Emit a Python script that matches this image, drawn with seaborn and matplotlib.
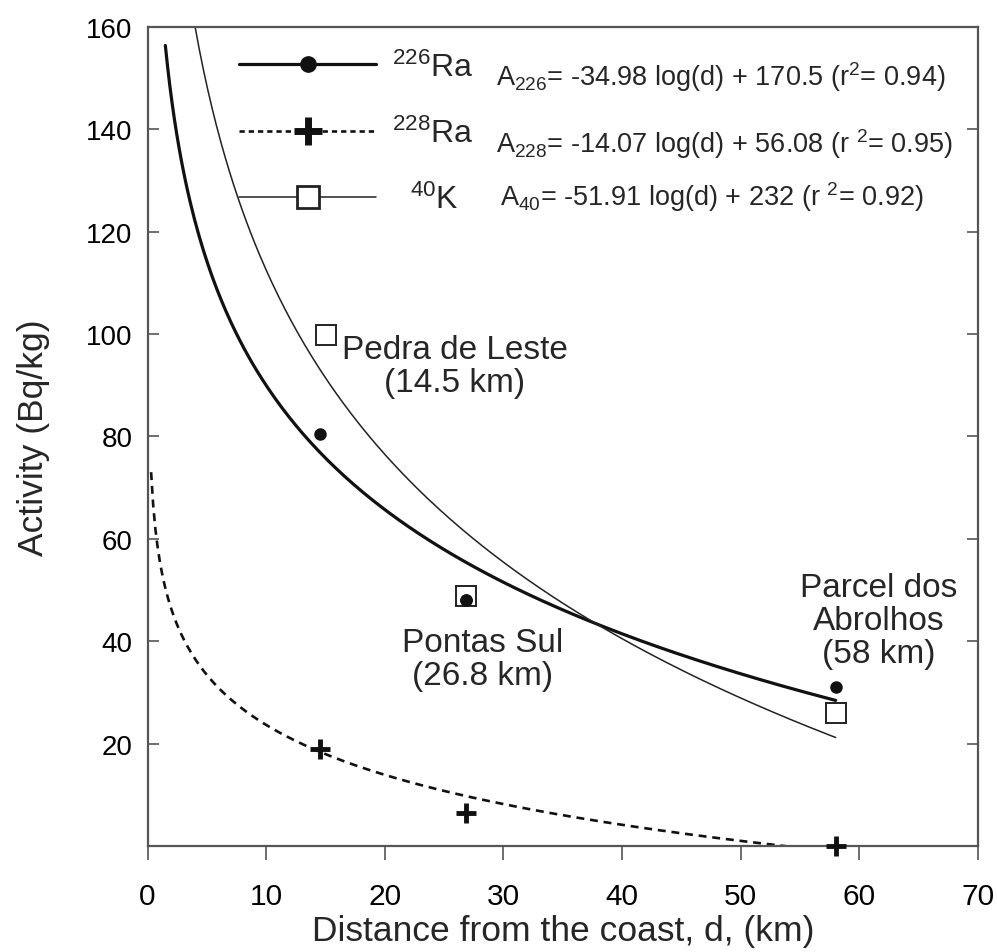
import numpy as np
import pandas as pd
import matplotlib
matplotlib.use("Agg")
import matplotlib.pyplot as plt
from matplotlib import font_manager
from matplotlib.lines import Line2D
import seaborn as sns

# ---- data ----
site_d = [14.5, 26.8, 58.0]
ra226 = [80.5, 48.0, 31.0]
ra228 = [19.0, 6.5, 0.0]
k40_d = [15.0, 26.8, 58.0]
k40 = [99.8, 48.8, 26.0]

# fit coefficients as printed in the legend (A = a*ln(d) + b)
fit_a = [-34.98, -14.07, -51.91]
fit_b = [170.5, 56.08, 232.0]
fit_r2 = ["0.94", "0.95", "0.92"]

sites = ["Pedra de Leste\n(14.5 km)", "Pontas Sul\n(26.8 km)", "Parcel dos\nAbrolhos\n(58 km)"]
site_xy = [(25.9, 93.8), (28.2, 36.6), (61.6, 44.0)]
x_ticks = [0, 10, 20, 30, 40, 50, 60, 70]
y_ticks = [20, 40, 60, 80, 100, 120, 140, 160]

sns.set_theme(style="white")
names = {f.name for f in font_manager.fontManager.ttflist}
REG = "Liberation Sans" if "Liberation Sans" in names else "DejaVu Sans"
plt.rcParams["font.family"] = [REG, "DejaVu Sans"]
plt.rcParams["mathtext.fontset"] = "custom"
plt.rcParams["mathtext.rm"] = REG
plt.rcParams["mathtext.it"] = REG
plt.rcParams["mathtext.default"] = "regular"

fig = plt.figure(figsize=(9.97, 9.53), dpi=100)
ax = fig.add_axes([0.148, 0.111, 0.833, 0.860])

# fitted curves
d1 = np.linspace(1.5, 58, 300)
d2 = np.linspace(0.3, 53.8, 300)
d3 = np.linspace(4.0, 58, 300)
df1 = pd.DataFrame({"d": d1, "A": fit_a[0] * np.log(d1) + fit_b[0]})
df2 = pd.DataFrame({"d": d2, "A": fit_a[1] * np.log(d2) + fit_b[1]})
df3 = pd.DataFrame({"d": d3, "A": fit_a[2] * np.log(d3) + fit_b[2]})
sns.lineplot(data=df1, x="d", y="A", ax=ax, color="#111111", lw=2.3, sort=False)
sns.lineplot(data=df3, x="d", y="A", ax=ax, color="#222222", lw=1.1, sort=False)
sns.lineplot(data=df2, x="d", y="A", ax=ax, color="#111111", lw=1.9, sort=False,
             linestyle=(0, (3, 2.2)))

# data points
ax.plot(site_d, ra226, "o", color="#111111", ms=8, ls="none", zorder=5)
ax.plot(site_d, ra228, "+", color="#111111", ms=15, mew=3.5, ls="none", zorder=5, clip_on=False)
ax.plot(k40_d, k40, "s", mfc="white", mec="#222222", mew=1.4, ms=14, ls="none", zorder=4)
ax.plot(site_d[1:2], ra226[1:2], "o", color="#111111", ms=8, zorder=6)

ax.set_xlim(0, 70)
ax.set_ylim(0, 160)
ax.set_xticks(x_ticks)
ax.set_yticks(y_ticks)
ax.tick_params(axis="x", direction="out", length=10, width=1.2, colors="#555555",
               labelcolor="black", labelsize=21.5, pad=16, bottom=True, top=False)
ax.tick_params(axis="y", direction="in", length=8, width=1.2, colors="#555555",
               labelcolor="black", labelsize=20, pad=11, left=True, right=True)
for s in ax.spines.values():
    s.set_color("#555555")
    s.set_linewidth(1.6)

ax.set_xlabel("Distance from the coast, d, (km)", fontsize=25.5)
ax.set_ylabel("Activity (Bq/kg)", fontsize=25.5)
ax.xaxis.set_label_coords(0.5, -0.083)
ax.yaxis.set_label_coords(-0.118, 0.5)

# annotations
for txt, (xx, yy) in zip(sites, site_xy):
    ax.text(xx, yy, txt, ha="center", va="center", fontsize=24, linespacing=1.08)

# legend
handles = [
    Line2D([], [], color="#111111", lw=2.3, marker="o", ms=11),
    Line2D([], [], color="#111111", lw=1.9, ls=(0, (2, 1.5)), marker="+", ms=20, mew=5),
    Line2D([], [], color="#222222", lw=1.1, marker="s", ms=16, mfc="white", mec="#222222", mew=2),
]
labels = [r"$^{226}$Ra", r"$^{228}$Ra", r"  $^{40}$K"]
leg = ax.legend(handles, labels, loc="upper left", bbox_to_anchor=(0.11, 0.970),
                frameon=False, fontsize=23, handlelength=4.3, handletextpad=0.5,
                labelspacing=1.1, borderpad=0, borderaxespad=0)

eqs = [
    r"A$_{226}$= -34.98 log(d) + 170.5 (r$^2$= %s)" % fit_r2[0],
    r"A$_{228}$= -14.07 log(d) + 56.08 (r $^2$= %s)" % fit_r2[1],
    r"A$_{40}$= -51.91 log(d) + 232 (r $^2$= %s)" % fit_r2[2],
]
eq_pos = [(0.420, 0.940), (0.420, 0.858), (0.424, 0.793)]
for e, (xx, yy) in zip(eqs, eq_pos):
    ax.text(xx, yy, e, transform=ax.transAxes, ha="left", va="center", fontsize=19.5)

fig.savefig("out.png", dpi=100, facecolor="white")
